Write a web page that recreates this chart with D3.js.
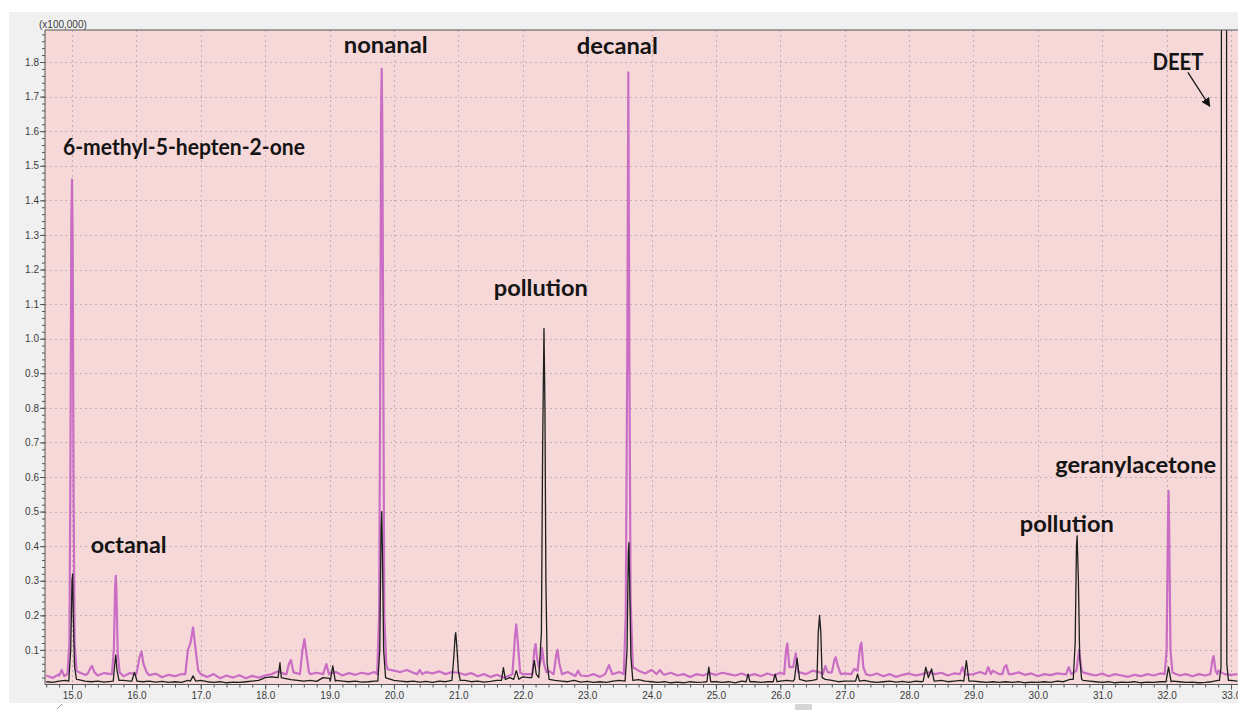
<!DOCTYPE html>
<html>
<head>
<meta charset="utf-8">
<script src="https://cdn.jsdelivr.net/npm/d3@7"></script>
<style>
  html, body { margin: 0; padding: 0; background: #fff; }
  svg { display: block; }
  .axis text { font-family: "Liberation Sans", Arial, sans-serif; font-size: 10px; fill: #3a3a3a; }
  .axis path, .axis line { stroke: #555; }
  .label { font-family: Lato, "Open Sans", sans-serif; font-weight: 700; font-size: 23px; fill: #141414; }
</style>
</head>
<body>
<svg id="chart" width="1238" height="710"></svg>
<script>
// retention time (min) sampling of the baseline traces
const TIME_START = 14.6;
const TIME_STEP = 0.1;

// intensity in units of 100,000 counts, one value per 0.1 min from 14.6 to 33.1
const magentaBaseline = [
  0.026, 0.019, 0.03, 0.027, 0.03, 0.036, 0.028, 0.04, 0.026, 0.033,
  0.03, 0.03, 0.024, 0.033, 0.022, 0.034, 0.027, 0.031, 0.021, 0.028,
  0.024, 0.03, 0.03, 0.03, 0.03, 0.022, 0.03, 0.018, 0.026, 0.02,
  0.027, 0.018, 0.025, 0.02, 0.026, 0.03, 0.038, 0.03, 0.04, 0.032,
  0.035, 0.03, 0.034, 0.028, 0.032, 0.036, 0.026, 0.033, 0.028, 0.034,
  0.03, 0.036, 0.03, 0.044, 0.04, 0.036, 0.042, 0.034, 0.04, 0.036,
  0.032, 0.038, 0.03, 0.036, 0.034, 0.028, 0.033, 0.024, 0.03, 0.022,
  0.028, 0.02, 0.026, 0.03, 0.03, 0.03, 0.03, 0.03, 0.04, 0.035,
  0.03, 0.036, 0.026, 0.032, 0.024, 0.03, 0.022, 0.028, 0.03, 0.036,
  0.03, 0.03, 0.04, 0.032, 0.042, 0.034, 0.028, 0.034, 0.026, 0.03,
  0.022, 0.03, 0.026, 0.033, 0.028, 0.034, 0.03, 0.026, 0.032, 0.025,
  0.03, 0.024, 0.032, 0.026, 0.034, 0.03, 0.03, 0.035, 0.03, 0.04,
  0.036, 0.04, 0.04, 0.03, 0.032, 0.036, 0.03, 0.03, 0.026, 0.032,
  0.024, 0.03, 0.022, 0.028, 0.032, 0.026, 0.03, 0.035, 0.03, 0.034,
  0.026, 0.032, 0.03, 0.028, 0.03, 0.036, 0.03, 0.04, 0.03, 0.04,
  0.03, 0.035, 0.028, 0.032, 0.024, 0.03, 0.027, 0.032, 0.03, 0.04,
  0.04, 0.035, 0.03, 0.026, 0.032, 0.024, 0.03, 0.026, 0.022, 0.028,
  0.024, 0.03, 0.026, 0.032, 0.03, 0.034, 0.026, 0.03, 0.024, 0.03,
  0.026, 0.03, 0.04, 0.03, 0.028, 0.03
];

const blackBaseline = [
  0.008, 0.006, 0.01, 0.012, 0.015, 0.014, 0.01, 0.008, 0.01, 0.007,
  0.009, 0.02, 0.012, 0.01, 0.012, 0.008, 0.01, 0.007, 0.009, 0.006,
  0.008, 0.006, 0.012, 0.018, 0.012, 0.008, 0.006, 0.008, 0.005, 0.007,
  0.006, 0.008, 0.01, 0.012, 0.02, 0.022, 0.025, 0.018, 0.014, 0.012,
  0.01, 0.012, 0.009, 0.02, 0.018, 0.012, 0.01, 0.008, 0.01, 0.007,
  0.008, 0.01, 0.015, 0.018, 0.012, 0.01, 0.008, 0.01, 0.007, 0.009,
  0.006, 0.01, 0.008, 0.015, 0.02, 0.012, 0.008, 0.01, 0.007, 0.009,
  0.012, 0.015, 0.02, 0.018, 0.022, 0.02, 0.03, 0.03, 0.02, 0.012,
  0.01, 0.008, 0.012, 0.007, 0.009, 0.006, 0.008, 0.006, 0.01, 0.012,
  0.012, 0.02, 0.014, 0.01, 0.008, 0.006, 0.008, 0.005, 0.007, 0.005,
  0.008, 0.006, 0.007, 0.01, 0.008, 0.006, 0.008, 0.005, 0.01, 0.012,
  0.008, 0.006, 0.008, 0.012, 0.01, 0.012, 0.01, 0.015, 0.01, 0.012,
  0.01, 0.015, 0.012, 0.008, 0.01, 0.01, 0.018, 0.012, 0.008, 0.006,
  0.008, 0.01, 0.007, 0.009, 0.006, 0.01, 0.008, 0.012, 0.01, 0.012,
  0.008, 0.01, 0.012, 0.015, 0.01, 0.008, 0.006, 0.008, 0.006, 0.008,
  0.006, 0.008, 0.005, 0.007, 0.006, 0.008, 0.006, 0.01, 0.008, 0.015,
  0.015, 0.012, 0.01, 0.008, 0.006, 0.008, 0.005, 0.007, 0.006, 0.008,
  0.005, 0.007, 0.006, 0.008, 0.006, 0.01, 0.008, 0.006, 0.007, 0.005,
  0.006, 0.008, 0.012, 0.015, 0.012, 0.01
];

// peak profiles: [time, intensity]
const magentaPeaks = [
  [[14.80, 0.025], [14.84, 0.042], [14.88, 0.024]],
  [[14.93, 0.03], [14.96, 0.12], [14.975, 0.6], [14.99, 1.35], [15.0, 1.46], [15.01, 1.3], [15.025, 0.55], [15.04, 0.12], [15.07, 0.04]],
  [[15.24, 0.03], [15.28, 0.045], [15.31, 0.054], [15.35, 0.035]],
  [[15.62, 0.03], [15.65, 0.1], [15.67, 0.28], [15.68, 0.314], [15.69, 0.27], [15.71, 0.09], [15.74, 0.035]],
  [[16.0, 0.03], [16.05, 0.08], [16.08, 0.095], [16.11, 0.06], [16.16, 0.035]],
  [[16.76, 0.03], [16.80, 0.1], [16.84, 0.12], [16.88, 0.165], [16.92, 0.1], [16.96, 0.04]],
  [[18.33, 0.03], [18.37, 0.06], [18.40, 0.071], [18.44, 0.035]],
  [[18.54, 0.03], [18.58, 0.1], [18.61, 0.131], [18.64, 0.09], [18.68, 0.035]],
  [[18.90, 0.03], [18.95, 0.059], [18.99, 0.03]],
  [[19.74, 0.03], [19.77, 0.2], [19.79, 1.0], [19.80, 1.65], [19.81, 1.78], [19.82, 1.6], [19.835, 0.9], [19.85, 0.2], [19.88, 0.06]],
  [[20.36, 0.03], [20.40, 0.042], [20.44, 0.03]],
  [[21.84, 0.03], [21.88, 0.14], [21.90, 0.174], [21.92, 0.13], [21.96, 0.035]],
  [[22.15, 0.03], [22.18, 0.1], [22.20, 0.117], [22.22, 0.08], [22.25, 0.05], [22.28, 0.07], [22.30, 0.105], [22.33, 0.06], [22.37, 0.035]],
  [[22.48, 0.03], [22.52, 0.085], [22.54, 0.1], [22.57, 0.06], [22.61, 0.03]],
  [[22.82, 0.025], [22.86, 0.04], [22.90, 0.026]],
  [[23.28, 0.03], [23.34, 0.056], [23.39, 0.03]],
  [[23.57, 0.03], [23.60, 0.2], [23.625, 1.0], [23.64, 1.77], [23.655, 1.0], [23.675, 0.25], [23.71, 0.05]],
  [[24.08, 0.03], [24.13, 0.042], [24.18, 0.03]],
  [[26.06, 0.03], [26.09, 0.1], [26.11, 0.119], [26.14, 0.05], [26.2, 0.05], [26.24, 0.09], [26.28, 0.035]],
  [[26.66, 0.03], [26.70, 0.053], [26.74, 0.035], [26.80, 0.035], [26.84, 0.07], [26.86, 0.079], [26.90, 0.05], [26.94, 0.03]],
  [[27.10, 0.03], [27.15, 0.045], [27.20, 0.04], [27.24, 0.11], [27.26, 0.121], [27.29, 0.05], [27.33, 0.03]],
  [[28.79, 0.03], [28.83, 0.05], [28.87, 0.03]],
  [[29.19, 0.03], [29.23, 0.05], [29.27, 0.03]],
  [[29.45, 0.03], [29.48, 0.05], [29.51, 0.056], [29.55, 0.03]],
  [[30.44, 0.03], [30.48, 0.05], [30.52, 0.03], [30.60, 0.04], [30.64, 0.1], [30.68, 0.04]],
  [[31.97, 0.03], [32.0, 0.1], [32.02, 0.45], [32.03, 0.56], [32.04, 0.45], [32.06, 0.1], [32.09, 0.035]],
  [[32.68, 0.03], [32.71, 0.07], [32.73, 0.082], [32.76, 0.04], [32.79, 0.03]]
];

const blackPeaks = [
  [[14.95, 0.01], [14.98, 0.1], [15.0, 0.3], [15.01, 0.32], [15.02, 0.2], [15.04, 0.05], [15.07, 0.015]],
  [[15.64, 0.01], [15.67, 0.07], [15.68, 0.085], [15.70, 0.04], [15.73, 0.012]],
  [[15.93, 0.01], [15.97, 0.035], [16.01, 0.01]],
  [[16.84, 0.01], [16.88, 0.025], [16.92, 0.01]],
  [[18.20, 0.02], [18.23, 0.063], [18.25, 0.02]],
  [[19.01, 0.01], [19.05, 0.054], [19.09, 0.01]],
  [[19.75, 0.01], [19.78, 0.1], [19.80, 0.45], [19.81, 0.5], [19.82, 0.4], [19.84, 0.1], [19.87, 0.02]],
  [[20.90, 0.012], [20.93, 0.08], [20.95, 0.14], [20.96, 0.15], [20.98, 0.1], [21.0, 0.04], [21.03, 0.012]],
  [[21.67, 0.012], [21.70, 0.049], [21.73, 0.015]],
  [[21.86, 0.015], [21.90, 0.04], [21.94, 0.015]],
  [[22.14, 0.02], [22.18, 0.07], [22.21, 0.03]],
  [[22.25, 0.02], [22.29, 0.15], [22.31, 0.7], [22.33, 1.03], [22.345, 0.8], [22.36, 0.3], [22.38, 0.06], [22.41, 0.015]],
  [[23.59, 0.01], [23.62, 0.1], [23.64, 0.38], [23.65, 0.41], [23.66, 0.3], [23.68, 0.08], [23.71, 0.012]],
  [[24.86, 0.008], [24.89, 0.05], [24.92, 0.008]],
  [[25.47, 0.008], [25.50, 0.03], [25.53, 0.008]],
  [[25.89, 0.008], [25.92, 0.03], [25.95, 0.008]],
  [[26.22, 0.015], [26.26, 0.076], [26.30, 0.015]],
  [[26.57, 0.015], [26.59, 0.15], [26.61, 0.2], [26.63, 0.15], [26.65, 0.02]],
  [[27.17, 0.01], [27.20, 0.03], [27.23, 0.01]],
  [[28.22, 0.01], [28.26, 0.05], [28.30, 0.02], [28.35, 0.045], [28.39, 0.01]],
  [[28.85, 0.01], [28.89, 0.069], [28.93, 0.01]],
  [[30.55, 0.015], [30.58, 0.12], [30.60, 0.4], [30.61, 0.43], [30.63, 0.3], [30.65, 0.08], [30.68, 0.015]],
  [[31.99, 0.008], [32.03, 0.05], [32.07, 0.008]],
  [[32.82, 0.012], [32.845, 0.05], [32.853, 2.5], [32.93, 2.5], [32.935, 0.06], [32.96, 0.012]]
];

const xTicks = d3.range(15, 34, 1);
const xMinorTicks = d3.range(14.6, 33.2, 0.2);
const yTicks = [0.1, 0.2, 0.3, 0.4, 0.5, 0.6, 0.7, 0.8, 0.9, 1.0, 1.1, 1.2, 1.3, 1.4, 1.5, 1.6, 1.7, 1.8];
const yMinorTicks = d3.range(0.02, 1.89, 0.02);

// compound labels, anchored in data coordinates (left edge, baseline)
const compoundLabels = [
  { text: "6-methyl-5-hepten-2-one", t: 14.86, v: 1.53, width: 242 },
  { text: "octanal", t: 15.29, v: 0.38, width: 76 },
  { text: "nonanal", t: 19.22, v: 1.825, width: 84 },
  { text: "decanal", t: 22.84, v: 1.822, width: 81 },
  { text: "pollution", t: 21.55, v: 1.124, width: 94 },
  { text: "pollution", t: 29.72, v: 0.44, width: 94 },
  { text: "geranylacetone", t: 30.27, v: 0.612, width: 161 },
  { text: "DEET", t: 31.78, v: 1.778, width: 51 }
];
const deetArrow = { from: [32.33, 1.770], to: [32.67, 1.672] };

const W = 1238, H = 710;
const plot = { left: 45, top: 30, right: 1238, bottom: 684.5 };

const x = d3.scaleLinear().domain([15, 33]).range([72, 1231]);
const y = d3.scaleLinear().domain([0, 1.8]).range([684.5, 62]);

function buildTrace(baseline, peaks) {
  const pts = [];
  baseline.forEach((v, i) => {
    const t = TIME_START + i * TIME_STEP;
    const inside = peaks.some(p => t >= p[0][0] && t <= p[p.length - 1][0]);
    if (!inside) pts.push([t, v]);
  });
  peaks.forEach(p => p.forEach(d => pts.push(d)));
  return pts.sort((a, b) => a[0] - b[0]);
}

const svg = d3.select("#chart");

svg.append("rect").attr("x", 9).attr("y", 12).attr("width", W - 9).attr("height", 691).attr("fill", "#f0f0f0");
svg.append("rect").attr("x", 795).attr("y", 704).attr("width", 17).attr("height", 6).attr("fill", "#d6d6d6");
svg.append("line").attr("x1", 57).attr("y1", 709).attr("x2", 62).attr("y2", 704).attr("stroke", "#999");

svg.append("rect")
  .attr("x", plot.left).attr("y", plot.top)
  .attr("width", plot.right - plot.left).attr("height", plot.bottom - plot.top)
  .attr("fill", "#f6d8d8");

svg.append("defs").append("clipPath").attr("id", "plotclip")
  .append("rect")
  .attr("x", plot.left).attr("y", plot.top)
  .attr("width", plot.right - plot.left).attr("height", plot.bottom - plot.top);

const grid = svg.append("g").attr("stroke", "#c3b0b0").attr("stroke-width", 1).attr("stroke-dasharray", "2,3");
grid.selectAll("line.v").data(xTicks).join("line")
  .attr("class", "v")
  .attr("x1", d => Math.round(x(d)) + 0.5).attr("x2", d => Math.round(x(d)) + 0.5)
  .attr("y1", plot.top).attr("y2", plot.bottom);
grid.selectAll("line.h").data(yTicks).join("line")
  .attr("class", "h")
  .attr("x1", plot.left).attr("x2", plot.right)
  .attr("y1", d => Math.round(y(d)) + 0.5).attr("y2", d => Math.round(y(d)) + 0.5);

const line = d3.line().x(d => x(d[0])).y(d => y(d[1]));
const traces = svg.append("g").attr("clip-path", "url(#plotclip)");

traces.append("path")
  .attr("d", line(buildTrace(magentaBaseline, magentaPeaks)))
  .attr("fill", "none").attr("stroke", "#c25cc2").attr("stroke-width", 2.2)
  .attr("stroke-linejoin", "round").attr("opacity", 0.85);

traces.append("path")
  .attr("d", line(buildTrace(blackBaseline, blackPeaks)))
  .attr("fill", "none").attr("stroke", "#1e1e1e").attr("stroke-width", 1.3)
  .attr("stroke-linejoin", "round");

// axes
svg.append("g").attr("class", "axis")
  .attr("transform", `translate(${plot.left},0)`)
  .call(d3.axisLeft(y).tickValues(yMinorTicks).tickSize(3).tickFormat(""))
  .call(g => g.select(".domain").remove());

svg.append("g").attr("class", "axis")
  .attr("transform", `translate(${plot.left},0)`)
  .call(d3.axisLeft(y).tickValues(yTicks).tickSize(5).tickPadding(1).tickFormat(d3.format(".1f")))
  .call(g => g.select(".domain").attr("d", `M0,${plot.top}V${plot.bottom}`));

svg.append("g").attr("class", "axis")
  .attr("transform", `translate(0,${plot.bottom})`)
  .call(d3.axisBottom(x).tickValues(xMinorTicks).tickSize(3).tickFormat(""))
  .call(g => g.select(".domain").remove());

svg.append("g").attr("class", "axis")
  .attr("transform", `translate(0,${plot.bottom})`)
  .call(d3.axisBottom(x).tickValues(xTicks).tickSize(5).tickPadding(2).tickFormat(d3.format(".1f")))
  .call(g => g.select(".domain").attr("d", `M${plot.left},0H${plot.right}`));

svg.append("line")
  .attr("x1", plot.left).attr("x2", plot.right)
  .attr("y1", plot.top).attr("y2", plot.top)
  .attr("stroke", "#555");

svg.append("text")
  .attr("x", 39).attr("y", 28)
  .attr("font-family", "Liberation Sans, Arial, sans-serif")
  .attr("font-size", 10).attr("fill", "#3a3a3a")
  .text("(x100,000)");

// compound labels
svg.selectAll("text.label").data(compoundLabels).join("text")
  .attr("class", "label")
  .attr("x", d => x(d.t)).attr("y", d => y(d.v))
  .attr("textLength", d => d.width)
  .attr("lengthAdjust", "spacingAndGlyphs")
  .text(d => d.text);

svg.append("defs").append("marker")
  .attr("id", "arrowhead").attr("viewBox", "0 0 10 10")
  .attr("refX", 9).attr("refY", 5)
  .attr("markerWidth", 7).attr("markerHeight", 7)
  .attr("orient", "auto")
  .append("path").attr("d", "M0,0L10,5L0,10z").attr("fill", "#111");

svg.append("line")
  .attr("x1", x(deetArrow.from[0])).attr("y1", y(deetArrow.from[1]))
  .attr("x2", x(deetArrow.to[0])).attr("y2", y(deetArrow.to[1]))
  .attr("stroke", "#111").attr("stroke-width", 1.3)
  .attr("marker-end", "url(#arrowhead)");
</script>
</body>
</html>
